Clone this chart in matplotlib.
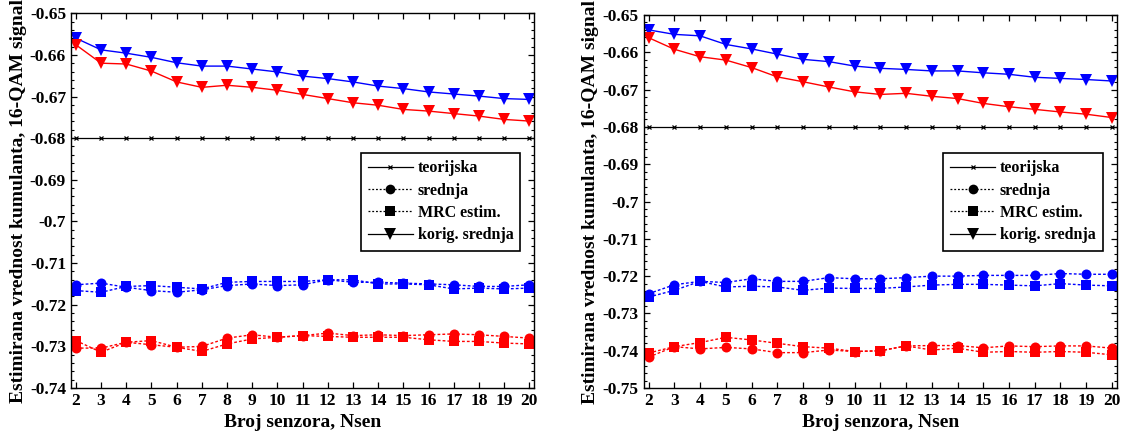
import numpy as np
import matplotlib
matplotlib.use("Agg")
import matplotlib.pyplot as plt
from matplotlib.ticker import MultipleLocator, AutoMinorLocator
from matplotlib.lines import Line2D

plt.rcParams['font.family'] = ['Liberation Serif', 'DejaVu Serif']
plt.rcParams['font.weight'] = 'bold'

nsen = list(range(2, 21))
theory = -0.68

# Left panel
L_korig_blue = [-0.6560, -0.6588, -0.6596, -0.6606, -0.6619, -0.6627, -0.6627, -0.6634, -0.6641, -0.6651,
                -0.6657, -0.6665, -0.6675, -0.6681, -0.6689, -0.6694, -0.6699, -0.6705, -0.6707]
L_korig_red = [-0.6576, -0.6620, -0.6622, -0.6639, -0.6665, -0.6678, -0.6673, -0.6678, -0.6685, -0.6695,
               -0.6705, -0.6715, -0.6721, -0.6731, -0.6735, -0.6741, -0.6747, -0.6755, -0.6759]
L_sred_blue = [-0.7152, -0.7148, -0.7158, -0.7166, -0.7170, -0.7164, -0.7154, -0.7150, -0.7154, -0.7152,
               -0.7140, -0.7146, -0.7146, -0.7148, -0.7150, -0.7152, -0.7156, -0.7156, -0.7152]
L_mrc_blue = [-0.7166, -0.7170, -0.7156, -0.7154, -0.7158, -0.7162, -0.7146, -0.7144, -0.7144, -0.7144,
              -0.7140, -0.7140, -0.7150, -0.7150, -0.7152, -0.7162, -0.7160, -0.7162, -0.7160]
L_sred_red = [-0.7304, -0.7304, -0.7290, -0.7296, -0.7302, -0.7300, -0.7280, -0.7272, -0.7278, -0.7274,
              -0.7268, -0.7274, -0.7272, -0.7274, -0.7272, -0.7270, -0.7272, -0.7276, -0.7280]
L_mrc_red = [-0.7286, -0.7314, -0.7290, -0.7286, -0.7302, -0.7312, -0.7294, -0.7282, -0.7278, -0.7274,
             -0.7276, -0.7278, -0.7278, -0.7278, -0.7284, -0.7288, -0.7288, -0.7292, -0.7294]

# Right panel
R_korig_blue = [-0.6540, -0.6552, -0.6556, -0.6579, -0.6591, -0.6605, -0.6619, -0.6625, -0.6637, -0.6643,
                -0.6646, -0.6650, -0.6650, -0.6655, -0.6659, -0.6667, -0.6670, -0.6673, -0.6677]
R_korig_red = [-0.6561, -0.6592, -0.6612, -0.6621, -0.6641, -0.6666, -0.6679, -0.6693, -0.6706, -0.6713,
               -0.6710, -0.6718, -0.6724, -0.6737, -0.6746, -0.6753, -0.6760, -0.6766, -0.6775]
R_sred_blue = [-0.7247, -0.7223, -0.7214, -0.7217, -0.7207, -0.7214, -0.7214, -0.7204, -0.7207, -0.7207,
               -0.7204, -0.7200, -0.7200, -0.7198, -0.7198, -0.7198, -0.7193, -0.7195, -0.7195]
R_mrc_blue = [-0.7256, -0.7238, -0.7214, -0.7229, -0.7227, -0.7229, -0.7238, -0.7232, -0.7233, -0.7233,
              -0.7229, -0.7224, -0.7222, -0.7222, -0.7224, -0.7226, -0.7220, -0.7224, -0.7226]
R_sred_red = [-0.7417, -0.7389, -0.7395, -0.7391, -0.7395, -0.7405, -0.7405, -0.7398, -0.7402, -0.7400,
              -0.7387, -0.7386, -0.7386, -0.7392, -0.7387, -0.7389, -0.7387, -0.7387, -0.7393]
R_mrc_red = [-0.7406, -0.7389, -0.7378, -0.7364, -0.7371, -0.7380, -0.7389, -0.7393, -0.7402, -0.7400,
             -0.7387, -0.7398, -0.7393, -0.7404, -0.7402, -0.7404, -0.7402, -0.7404, -0.7411]

ylabel = "Estimirana vrednost kumulanta, 16-QAM signal"
xlabel = "Broj senzora, Nsen"
legend_labels = ["teorijska", "srednja", "MRC estim.", "korig. srednja"]

BLUE = '#0000ff'
RED = '#ff0000'
DOT = (0, (2.0, 1.5))

fig = plt.figure(figsize=(11.25, 4.4), dpi=100)
ax1 = fig.add_axes([0.063, 0.118, 0.412, 0.852])
ax2 = fig.add_axes([0.572, 0.118, 0.421, 0.848])


def draw(ax, kb, kr, sb, mb, sr, mr, ylim, leg_top):
    ax.axhline(theory, color='black', lw=0.9)
    ax.plot(nsen, [theory] * len(nsen), color='black', lw=0, marker='x', ms=3.5, mew=0.9)
    for s, m, c in [(sb, mb, BLUE), (sr, mr, RED)]:
        ax.plot(nsen, s, color=c, lw=1.0, ls=DOT, marker='o', ms=7.2, mew=0)
        ax.plot(nsen, m, color=c, lw=1.0, ls=DOT, marker='s', ms=6.6, mew=0)
    ax.plot(nsen, kb, color=BLUE, lw=1.0, marker='v', ms=8.2, mew=0)
    ax.plot(nsen, kr, color=RED, lw=1.0, marker='v', ms=8.2, mew=0)
    ax.set_xlim(1.8, 20.2)
    ax.set_ylim(*ylim)
    ax.xaxis.set_major_locator(MultipleLocator(1))
    ax.yaxis.set_major_locator(MultipleLocator(0.01))
    ax.yaxis.set_minor_locator(AutoMinorLocator(5))
    ax.tick_params(axis='both', which='both', direction='in', top=True, right=True)
    ax.tick_params(axis='both', which='major', length=4, width=0.9, labelsize=12.5)
    ax.tick_params(axis='y', which='minor', length=2, width=0.8)
    for sp in ax.spines.values():
        sp.set_linewidth(1.0)
    ax.set_yticklabels([('%g' % v) for v in ax.get_yticks()], fontweight='bold')
    ax.set_xlabel(xlabel, fontsize=14, fontweight='bold', labelpad=4)
    ax.set_ylabel(ylabel, fontsize=14, fontweight='bold', labelpad=2)
    for lab in ax.get_xticklabels() + ax.get_yticklabels():
        lab.set_fontweight('bold')
    handles = [
        Line2D([], [], color='black', lw=0.9, marker='x', ms=3.5, mew=0.9),
        Line2D([], [], color='black', lw=0.9, ls=(0, (1.5, 1.5)), marker='o', ms=7, mew=0),
        Line2D([], [], color='black', lw=0.9, ls=(0, (1.5, 1.5)), marker='s', ms=6.5, mew=0),
        Line2D([], [], color='black', lw=0.9, marker='v', ms=8, mew=0),
    ]
    leg = ax.legend(handles, legend_labels, loc='upper right', bbox_to_anchor=(0.97, leg_top),
                    borderaxespad=0, fancybox=False, framealpha=1, edgecolor='black', fontsize=11.5,
                    handlelength=2.8, handletextpad=0.3, borderpad=0.45, labelspacing=0.4)
    leg.get_frame().set_linewidth(1.2)
    for t in leg.get_texts():
        t.set_fontweight('bold')


draw(ax1, L_korig_blue, L_korig_red, L_sred_blue, L_mrc_blue, L_sred_red, L_mrc_red, (-0.74, -0.65), 0.627)
draw(ax2, R_korig_blue, R_korig_red, R_sred_blue, R_mrc_blue, R_sred_red, R_mrc_red, (-0.75, -0.65), 0.63)

fig.savefig('out.png', dpi=100)
